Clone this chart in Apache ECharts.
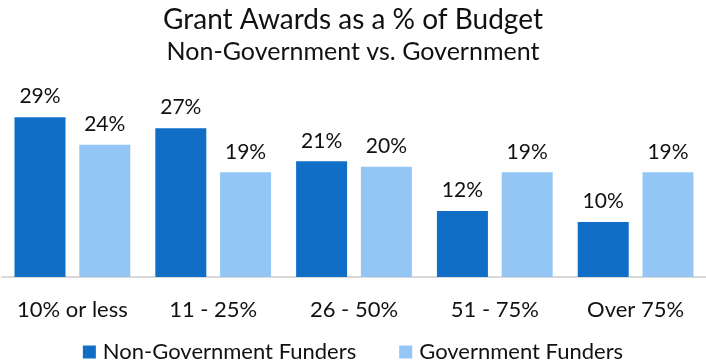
<!DOCTYPE html>
<html>
<head>
<meta charset="utf-8">
<script src="https://cdn.jsdelivr.net/npm/echarts@6/dist/echarts.min.js"></script>
<style>
  html, body { margin: 0; padding: 0; background: #ffffff; }
  #chart { width: 706px; height: 362px; }
</style>
</head>
<body>
<div id="chart"></div>
<script>
// Budget share bands and the share of each band's grants, by funder type
const categories = ['10% or less', '11 - 25%', '26 - 50%', '51 - 75%', 'Over 75%'];
const nonGovernment = [29, 27, 21, 12, 10];
const government = [24, 19, 20, 19, 19];
const seriesNames = ['Non-Government Funders', 'Government Funders'];

const FONT = 'Lato, "Open Sans", sans-serif';
const DARK = '#106EC6';
const LIGHT = '#93C6F4';
const INK = '#111111';

const chart = echarts.init(document.getElementById('chart'), null, { renderer: 'canvas' });

const valueLabel = {
  show: true,
  position: 'top',
  distance: 10,
  formatter: p => p.value + '%',
  fontFamily: FONT,
  fontSize: 21,
  color: INK
};

chart.setOption({
  animation: false,
  backgroundColor: '#ffffff',
  title: [
    {
      text: 'Grant Awards as a % of Budget',
      left: 'center',
      top: 1,
      textStyle: { fontFamily: FONT, fontSize: 28, fontWeight: 'normal', color: INK }
    },
    {
      text: 'Non-Government vs. Government',
      left: 'center',
      top: 34,
      textStyle: { fontFamily: FONT, fontSize: 25, fontWeight: 'normal', color: INK }
    }
  ],
  legend: {
    top: 336,
    left: 'center',
    icon: 'rect',
    itemWidth: 13,
    itemHeight: 13,
    itemGap: 43,
    textStyle: { fontFamily: FONT, fontSize: 22, color: INK, padding: [0, 0, 0, 2] },
    data: seriesNames
  },
  grid: { left: 2, top: 111.7, width: 706, height: 165.3, containLabel: false },
  xAxis: {
    type: 'category',
    data: categories,
    axisLine: { lineStyle: { color: '#D9D9D9', width: 2 } },
    axisTick: { show: false },
    axisLabel: { interval: 0, fontFamily: FONT, fontSize: 22, color: INK, margin: 22 }
  },
  yAxis: {
    type: 'value',
    min: 0,
    max: 30,
    show: false,
    splitLine: { show: false }
  },
  series: [
    {
      name: seriesNames[0],
      type: 'bar',
      data: nonGovernment,
      barWidth: 51,
      barGap: '27%',
      itemStyle: { color: DARK },
      label: valueLabel
    },
    {
      name: seriesNames[1],
      type: 'bar',
      data: government,
      barWidth: 51,
      itemStyle: { color: LIGHT },
      label: valueLabel
    }
  ]
});
</script>
</body>
</html>
